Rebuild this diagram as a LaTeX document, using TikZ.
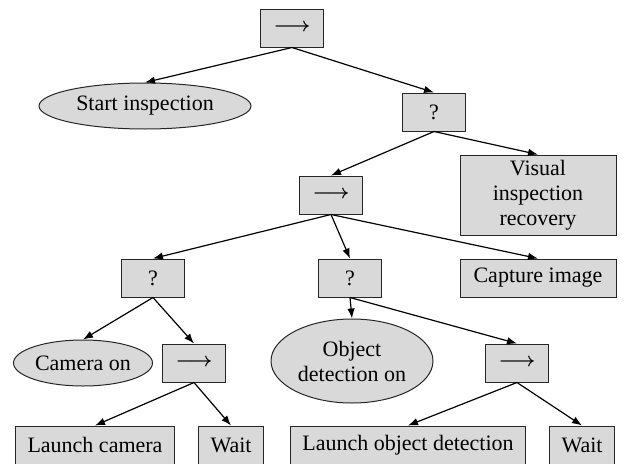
\documentclass[tikz,border=0pt]{standalone}
\usepackage{fontspec}
\setmainfont{Liberation Serif}
\usepackage{tikz}
\usetikzlibrary{arrows.meta}
\usetikzlibrary{shapes.geometric}

\newcommand{\seqarrow}{\resizebox{37pt}{!}{\boldmath$\longrightarrow$}}

\tikzset{
	act/.style={draw=black!85, fill=gray!30, line width=1pt, minimum height=38pt, inner xsep=12pt, inner ysep=0pt, align=center, font=\fontsize{22}{25}\selectfont},
	seqbox/.style={act, minimum width=63pt, inner xsep=0pt},
	cond/.style={draw=black!85, fill=gray!30, line width=1pt, ellipse, inner sep=0pt, align=center, font=\fontsize{22}{25}\selectfont},
	edge/.style={-{Latex[length=10pt,width=7.5pt]}, line width=1.2pt}
}

\begin{document}
\begin{tikzpicture}[x=1pt,y=-1pt]
\useasboundingbox (0,0) rectangle (626,463);

\node[seqbox] (root) at (292,28) {\seqarrow};

\node[cond, minimum width=212pt, minimum height=46pt] (start) at (145,106) {Start inspection};
\node[seqbox] (fb1) at (434,112) {?};

\node[seqbox] (seq1) at (331,195) {\seqarrow};
\node[act, minimum width=156pt, minimum height=80pt, inner xsep=0pt] (recover) at (538,195) {Visual\\inspection\\recovery};

\node[seqbox] (fb2) at (153,278) {?};
\node[seqbox] (fb3) at (350,278) {?};
\node[act, minimum width=156pt, inner xsep=0pt] (capture) at (538,278) {Capture image};

\node[cond, minimum width=139pt, minimum height=46pt] (camon) at (83,363) {Camera on};
\node[seqbox] (seq2) at (194,363) {\seqarrow};
\node[cond, minimum width=162pt, minimum height=84pt] (objon) at (352,361) {Object\\detection on};
\node[seqbox] (seq3) at (517,363) {\seqarrow};

\node[act] (lcam) at (95,445) {Launch camera};
\node[act] (wait1) at (231,445) {Wait};
\node[act] (lobj) at (408,445) {Launch object detection};
\node[act] (wait2) at (582,445) {Wait};

\draw[edge] (root.south) -- (start.north);
\draw[edge] (root.south) -- (fb1.north);
\draw[edge] (fb1.south) -- (seq1.north);
\draw[edge] (fb1.south) -- (recover.north);
\draw[edge] (seq1.south) -- (fb2.north);
\draw[edge] (seq1.south) -- (fb3.north);
\draw[edge] (seq1.south) -- (capture.north);
\draw[edge] (fb2.south) -- (camon.north);
\draw[edge] (fb2.south) -- (seq2.north);
\draw[edge] (fb3.south) -- (objon.north);
\draw[edge] (fb3.south) -- (seq3.north);
\draw[edge] (seq2.south) -- (lcam.north);
\draw[edge] (seq2.south) -- (wait1.north);
\draw[edge] (seq3.south) -- (lobj.north);
\draw[edge] (seq3.south) -- (wait2.north);

\end{tikzpicture}
\end{document}
